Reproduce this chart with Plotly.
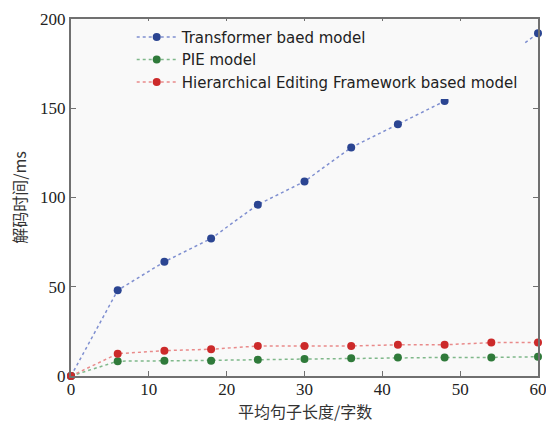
import plotly.graph_objects as go

x = [0, 6, 12, 18, 24, 30, 36, 42, 48, 54, 60]
transformer = [0, 48, 64, 77, 96, 109, 128, 141, 154, 173, 192]
pie = [0, 8.3, 8.5, 8.6, 9.1, 9.5, 9.9, 10.4, 10.4, 10.4, 10.8]
hef = [0, 12.5, 14.2, 15.0, 16.8, 16.8, 16.8, 17.5, 17.5, 18.7, 18.7]

names = ["Transformer baed model", "PIE model", "Hierarchical Editing Framework based model"]
colors = ["#2b4592", "#2f7a3a", "#cc2a2a"]
linecolors = ["#7f8fd0", "#7fb88a", "#e98a8a"]
x_title = "平均句子长度/字数"
y_title = "解码时间/ms"

fig = go.Figure()
for ys, n, c, lc in zip([transformer, pie, hef], names, colors, linecolors):
    fig.add_trace(go.Scatter(
        x=x, y=ys, name=n, mode="lines+markers",
        line=dict(color=lc, width=1.5, dash="dot"),
        marker=dict(color=c, size=8),
        cliponaxis=False,
    ))

axis_common = dict(
    showline=True, linecolor="#707070", linewidth=2, mirror="ticks",
    ticks="inside", ticklen=5, tickcolor="#707070", showgrid=False, zeroline=False,
    automargin=False, ticklabeloverflow="allow",
    tickfont=dict(family="Liberation Serif", size=17, color="#222"),
)
fig.update_layout(
    width=546, height=422,
    margin=dict(l=71, r=8, t=19, b=46),
    paper_bgcolor="white", plot_bgcolor="#f9f9f9",
    xaxis=dict(range=[0, 60], dtick=10, ticklabelstandoff=-3, **axis_common),
    yaxis=dict(range=[0, 200], dtick=50, **axis_common),
    legend=dict(x=0.13, y=0.995, xanchor="left", yanchor="top",
                bgcolor="#f9f9f9", borderwidth=0,
                font=dict(family="DejaVu Sans", size=15, color="#222"),
                itemwidth=40, tracegroupgap=0),
    showlegend=True,
    annotations=[
        dict(text=x_title, xref="paper", yref="paper", x=0.5, y=-0.098,
             xanchor="center", yanchor="middle", showarrow=False,
             font=dict(family="Noto Sans CJK SC", size=16, color="#333")),
        dict(text=y_title, xref="paper", yref="paper", x=-0.113, y=0.5,
             xanchor="center", yanchor="middle", showarrow=False, textangle=-90,
             font=dict(family="Noto Sans CJK SC", size=16, color="#333")),
    ],
)
fig.write_html("out.html", config={"displayModeBar": False},
               post_script="document.body.style.margin='0';document.body.style.overflow='hidden';")
